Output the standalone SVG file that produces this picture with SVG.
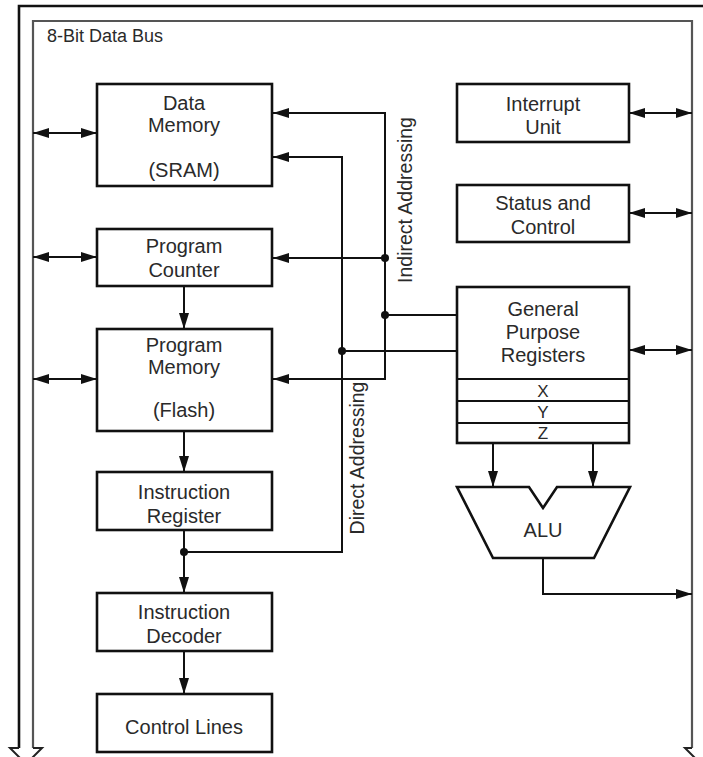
<svg xmlns="http://www.w3.org/2000/svg" width="703" height="757" viewBox="0 0 703 757">
<defs>
<marker id="ah" viewBox="0 0 16 10" refX="16" refY="5" markerWidth="16" markerHeight="10" markerUnits="userSpaceOnUse" orient="auto-start-reverse">
<path d="M0,0 L16,5 L0,10 z" fill="#111"/>
</marker>
<style>
.box{fill:#fff;stroke:#111;stroke-width:2.6}
.t{font-family:"Liberation Sans",Arial,sans-serif;font-size:20px;fill:#2a2a2a;text-anchor:middle}
.r{font-size:19.5px}
.c{fill:none;stroke:#111;stroke-width:2}
.a{fill:none;stroke:#111;stroke-width:2;marker-end:url(#ah)}
.d{fill:none;stroke:#111;stroke-width:2;marker-start:url(#ah);marker-end:url(#ah)}
.dot{fill:#111}
</style>
</defs>
<rect width="703" height="757" fill="#fff"/>
<g id="bus">
<path d="M19,748 L19,6 L703,6" fill="none" stroke="#111" stroke-width="2.6"/>
<path d="M33,748 L33,21 L692,21 L692,748" fill="none" stroke="#555" stroke-width="2.2"/>
<path d="M19,748 L10,748 L26,764 L42,748 L33,748" fill="none" stroke="#222" stroke-width="2"/>
<path d="M692,748 L685,748 L701,764" fill="none" stroke="#222" stroke-width="2"/>
<text x="47" y="42" style="font-family:'Liberation Sans',Arial,sans-serif;font-size:18px;fill:#2a2a2a">8-Bit Data Bus</text>
</g>
<g id="connectors">
<path class="d" d="M33,133 L97,133"/>
<path class="d" d="M33,257 L97,257"/>
<path class="d" d="M33,379 L97,379"/>
<path class="d" d="M629,113 L692,113"/>
<path class="d" d="M629,213 L692,213"/>
<path class="d" d="M629,350 L692,350"/>
<path class="a" d="M184,286 L184,329"/>
<path class="a" d="M184,431 L184,472"/>
<path class="a" d="M184,530 L184,593"/>
<path class="a" d="M184,651 L184,694"/>
<path class="a" d="M385,258 L385,113 L273,113"/>
<path class="a" d="M385,258 L273,258"/>
<path class="a" d="M385,258 L385,379 L273,379"/>
<path class="c" d="M457,315 L385,315"/>
<path class="a" d="M184,552 L342,552 L342,157 L273,157"/>
<path class="c" d="M457,351 L342,351"/>
<circle class="dot" cx="385" cy="258" r="4"/>
<circle class="dot" cx="385" cy="315" r="4"/>
<circle class="dot" cx="342" cy="351" r="4"/>
<circle class="dot" cx="184" cy="552" r="4"/>
<path class="a" d="M493,444 L493,487"/>
<path class="a" d="M593,444 L593,487"/>
<path class="a" d="M543,558 L543,594 L692,594"/>
<text class="t r" transform="translate(405,200) rotate(-90)" y="7">Indirect Addressing</text>
<text class="t r" transform="translate(357,458) rotate(-90)" y="7">Direct Addressing</text>
</g>
<g id="data-memory">
<rect class="box" x="97" y="84" width="175" height="102"/>
<text class="t" x="184" y="110">Data</text>
<text class="t" x="184" y="132">Memory</text>
<text class="t" x="184" y="177">(SRAM)</text>
</g>
<g id="program-counter">
<rect class="box" x="97" y="229" width="175" height="57"/>
<text class="t" x="184" y="253">Program</text>
<text class="t" x="184" y="277">Counter</text>
</g>
<g id="program-memory">
<rect class="box" x="97" y="329" width="175" height="102"/>
<text class="t" x="184" y="352">Program</text>
<text class="t" x="184" y="374">Memory</text>
<text class="t" x="184" y="417">(Flash)</text>
</g>
<g id="instruction-register">
<rect class="box" x="97" y="472" width="175" height="58"/>
<text class="t" x="184" y="499">Instruction</text>
<text class="t" x="184" y="523">Register</text>
</g>
<g id="instruction-decoder">
<rect class="box" x="97" y="593" width="175" height="58"/>
<text class="t" x="184" y="619">Instruction</text>
<text class="t" x="184" y="643">Decoder</text>
</g>
<g id="control-lines">
<rect class="box" x="97" y="694" width="175" height="58"/>
<text class="t" x="184" y="734">Control Lines</text>
</g>
<g id="interrupt-unit">
<rect class="box" x="457" y="84" width="172" height="58"/>
<text class="t" x="543" y="111">Interrupt</text>
<text class="t" x="543" y="134">Unit</text>
</g>
<g id="status-control">
<rect class="box" x="457" y="185" width="172" height="57"/>
<text class="t" x="543" y="210">Status and</text>
<text class="t" x="543" y="234">Control</text>
</g>
<g id="gpr">
<rect class="box" x="457" y="287" width="172" height="156"/>
<line x1="457" y1="379" x2="629" y2="379" stroke="#111" stroke-width="2"/>
<line x1="457" y1="401" x2="629" y2="401" stroke="#111" stroke-width="2"/>
<line x1="457" y1="423" x2="629" y2="423" stroke="#111" stroke-width="2"/>
<text class="t" x="543" y="316">General</text>
<text class="t" x="543" y="339">Purpose</text>
<text class="t" x="543" y="362">Registers</text>
<text class="t" x="543" y="397" style="font-size:17px">X</text>
<text class="t" x="543" y="418" style="font-size:17px">Y</text>
<text class="t" x="543" y="439" style="font-size:17px">Z</text>
</g>
<g id="alu">
<path class="box" d="M457,487 L529,487 L543,508 L557,487 L630,487 L594,558 L493,558 Z"/>
<text class="t" x="543" y="537">ALU</text>
</g>
</svg>
